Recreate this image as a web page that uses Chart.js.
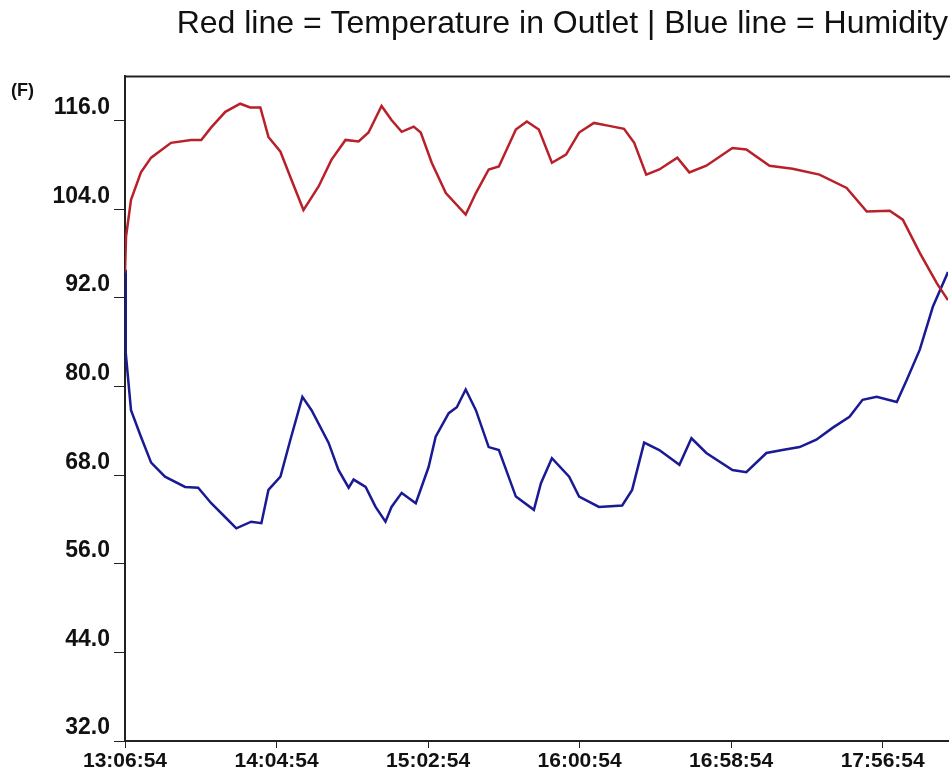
<!DOCTYPE html>
<html>
<head>
<meta charset="utf-8">
<title>Temperature in Outlet / Humidity</title>
<script src="https://cdn.jsdelivr.net/npm/chart.js@4/dist/chart.umd.min.js"></script>
<style>
  body { margin: 0; background: #fff; }
  canvas { display: block; }
</style>
</head>
<body>
<canvas id="chart" width="950" height="774"></canvas>
<script>
// Minutes after 13:06:54
const tempMinutes = [0, 0.4, 2.3, 6.1, 10.0, 17.6, 25.3, 29.2, 33.0, 38.4, 44.1, 47.9, 51.8, 54.9, 59.5,
  63.7, 68.3, 74.1, 79.0, 84.4, 89.4, 93.2, 98.2, 102.0, 105.9, 110.5, 113.2, 117.4, 122.8, 130.4,
  134.3, 139.2, 143.1, 149.6, 153.8, 158.4, 163.4, 168.8, 173.8, 179.5, 185.3, 191.0, 194.9, 199.5, 204.5,
  211.4, 216.0, 222.5, 232.5, 237.8, 246.7, 255.5, 265.8, 276.2, 283.9, 292.7, 297.7, 304.2, 310.7, 315];
const tempValues = [95.4, 100.3, 105.3, 109.0, 111.0, 113.0, 113.4, 113.4, 115.1, 117.2, 118.3, 117.8, 117.8, 113.8, 111.8,
  108.0, 103.9, 107.1, 110.7, 113.4, 113.2, 114.4, 118.0, 116.1, 114.5, 115.2, 114.4, 110.3, 106.2, 103.3,
  106.2, 109.4, 109.8, 114.8, 115.9, 114.8, 110.3, 111.4, 114.4, 115.7, 115.3, 114.9, 113.0, 108.7, 109.4,
  111.0, 109.0, 109.9, 112.3, 112.1, 109.9, 109.5, 108.7, 106.9, 103.7, 103.8, 102.6, 98.1, 94.0, 91.7];

const humMinutes = [0, 0.3, 2.3, 6.1, 10.0, 15.3, 23.0, 28.0, 33.0, 38.4, 42.6, 48.3, 52.2, 54.9, 59.5,
  63.3, 67.9, 71.4, 77.9, 81.7, 85.6, 87.5, 92.1, 95.9, 99.7, 102.0, 105.9, 111.3, 116.2, 118.9,
  123.9, 127.0, 130.4, 134.3, 139.2, 143.1, 149.6, 156.5, 159.2, 163.4, 170.0, 173.8, 181.4, 190.3, 194.1,
  198.7, 204.5, 212.2, 216.8, 222.5, 232.5, 237.8, 245.5, 251.6, 258.2, 264.6, 270.8, 277.3, 282.3, 287.7,
  295.4, 299.2, 304.2, 309.2, 315];
const humValues = [95.8, 84.5, 76.8, 73.2, 69.7, 67.8, 66.4, 66.3, 64.2, 62.3, 60.8, 61.7, 61.5, 66.0, 67.8,
  72.8, 78.6, 76.8, 72.4, 68.7, 66.3, 67.4, 66.4, 63.7, 61.7, 63.7, 65.6, 64.2, 69.1, 73.2,
  76.4, 77.2, 79.6, 76.8, 71.8, 71.4, 65.1, 63.3, 66.9, 70.3, 67.8, 65.1, 63.7, 63.9, 66.0,
  72.4, 71.4, 69.4, 73.0, 71.0, 68.7, 68.4, 71.0, 71.4, 71.8, 72.8, 74.4, 75.9, 78.2, 78.6,
  77.9, 80.9, 85.0, 90.8, 95.5];

const xTickMinutes = [0, 58, 116, 174, 232, 290];
const xTickLabels = ["13:06:54", "14:04:54", "15:02:54", "16:00:54", "16:58:54", "17:56:54"];
const yTickValues = [32, 44, 56, 68, 80, 92, 104, 116];
const yTickLabels = ["32.0", "44.0", "56.0", "68.0", "80.0", "92.0", "104.0", "116.0"];

const titleText = "Red line = Temperature in Outlet | Blue line = Humidity";
const unitLabel = "(F)";

const FONT = '"Liberation Sans", Arial, sans-serif';

// top frame line and the (F) label
const extras = {
  id: "extras",
  afterDraw(chart) {
    const { ctx, chartArea } = chart;
    ctx.save();
    ctx.strokeStyle = "#222";
    ctx.lineWidth = 2;
    ctx.beginPath();
    ctx.moveTo(chartArea.left, chartArea.top);
    ctx.lineTo(chart.width, chartArea.top);
    ctx.stroke();
    ctx.font = "bold 18px " + FONT;
    ctx.fillStyle = "#111";
    ctx.textAlign = "left";
    ctx.textBaseline = "middle";
    ctx.fillText(unitLabel, 11, 91);
    ctx.restore();
  },
};

const toPoints = (xs, ys) => xs.map((x, i) => ({ x, y: ys[i] }));

new Chart(document.getElementById("chart").getContext("2d"), {
  type: "line",
  data: {
    datasets: [
      {
        label: "Temperature in Outlet",
        data: toPoints(tempMinutes, tempValues),
        borderColor: "#b8202a",
        borderWidth: 2.5,
        pointRadius: 0,
        tension: 0,
      },
      {
        label: "Humidity",
        data: toPoints(humMinutes, humValues),
        borderColor: "#1a1a94",
        borderWidth: 2.5,
        pointRadius: 0,
        tension: 0,
      },
    ],
  },
  options: {
    responsive: false,
    animation: false,
    devicePixelRatio: 1,
    layout: { padding: { left: 0, right: 2, top: 0, bottom: 0 } },
    plugins: {
      legend: { display: false },
      tooltip: { enabled: false },
      title: {
        display: true,
        text: titleText,
        align: "end",
        color: "#111",
        font: { family: FONT, size: 32, weight: "normal" },
        padding: { top: 5, bottom: 33 },
      },
    },
    scales: {
      x: {
        type: "linear",
        min: 0,
        max: 315,
        afterFit: (scale) => { scale.height = 33; },
        afterBuildTicks: (scale) => { scale.ticks = xTickMinutes.map((v) => ({ value: v })); },
        border: { color: "#222", width: 2 },
        grid: { drawOnChartArea: false, drawTicks: true, tickLength: 7, color: "#222" },
        ticks: {
          autoSkip: false,
          maxRotation: 0,
          padding: 1,
          color: "#111",
          font: { family: FONT, size: 21, weight: "bold" },
          callback: (value, index) => xTickLabels[index],
        },
      },
      y: {
        min: 32,
        max: 122,
        afterFit: (scale) => { scale.width = 125; },
        afterBuildTicks: (scale) => { scale.ticks = yTickValues.map((v) => ({ value: v })); },
        border: { color: "#222", width: 2 },
        grid: { drawOnChartArea: false, drawTicks: true, tickLength: 11, color: "#222" },
        ticks: {
          padding: 4,
          labelOffset: -13,
          color: "#111",
          font: { family: FONT, size: 23, weight: "bold" },
          callback: (value, index) => yTickLabels[index],
        },
      },
    },
  },
  plugins: [extras],
});
</script>
</body>
</html>
